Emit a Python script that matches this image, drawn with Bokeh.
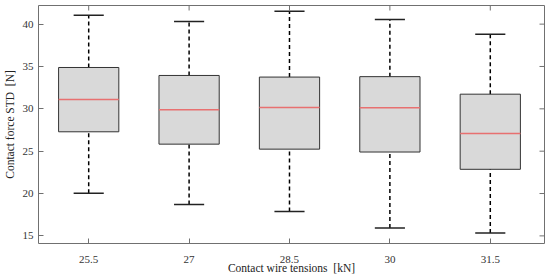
from bokeh.plotting import figure
from bokeh.models import Range1d, FixedTicker
from bokeh.embed import file_html
from bokeh.resources import INLINE

tensions = ["25.5", "27", "28.5", "30", "31.5"]
upper = [41.06, 40.3, 41.53, 40.54, 38.82]
q3 = [34.88, 33.94, 33.75, 33.8, 31.73]
median = [31.1, 29.88, 30.15, 30.12, 27.09]
q1 = [27.29, 25.83, 25.24, 24.9, 22.86]
lower = [20.04, 18.7, 17.89, 15.94, 15.35]
y_ticks = [15, 20, 25, 30, 35, 40]

pos = list(range(1, len(tensions) + 1))
box_w = 0.6
cap_w = 0.3
x_lo, x_hi = 0.5, 5.54
y_lo, y_hi = 14.1, 42.2

FONT = "Liberation Serif"
p = figure(width=550, height=278, output_backend="svg", toolbar_location=None,
           x_range=Range1d(x_lo, x_hi), y_range=Range1d(y_lo, y_hi),
           min_border_left=38, min_border_right=6, min_border_top=5, min_border_bottom=35)
p.xgrid.visible = False
p.ygrid.visible = False
p.outline_line_color = "#707070"
p.outline_line_width = 1

# whiskers
p.segment(x0=pos, x1=pos, y0=q3, y1=upper, line_color="black", line_width=1.5, line_dash="4 3")
p.segment(x0=pos, x1=pos, y0=lower, y1=q1, line_color="black", line_width=1.5, line_dash="4 3")
# caps
p.segment(x0=[x - cap_w / 2 for x in pos], x1=[x + cap_w / 2 for x in pos], y0=upper, y1=upper,
          line_color="#222222", line_width=1.5)
p.segment(x0=[x - cap_w / 2 for x in pos], x1=[x + cap_w / 2 for x in pos], y0=lower, y1=lower,
          line_color="#222222", line_width=1.5)
# boxes
p.vbar(x=pos, width=box_w, top=q3, bottom=q1, fill_color="#d9d9d9", line_color="#333333", line_width=1)
# medians
p.segment(x0=[x - box_w / 2 for x in pos], x1=[x + box_w / 2 for x in pos], y0=median, y1=median,
          line_color="#e87070", line_width=1.5)

# mirrored inward ticks on the top and right edges (MATLAB "box on")
tick_len_y = 5 * (y_hi - y_lo) / 238.0
tick_len_x = 5 * (x_hi - x_lo) / 506.0
p.segment(x0=pos, x1=pos, y0=[y_hi] * len(pos), y1=[y_hi - tick_len_y] * len(pos),
          line_color="#707070", line_width=1)
p.segment(x0=[x_hi] * len(y_ticks), x1=[x_hi - tick_len_x] * len(y_ticks), y0=y_ticks, y1=y_ticks,
          line_color="#707070", line_width=1)

def style(ax):
    ax.axis_line_color = None
    ax.major_tick_in = 5
    ax.major_tick_out = 0
    ax.minor_tick_line_color = None
    ax.major_tick_line_color = "#707070"
    ax.major_label_text_font = FONT
    ax.major_label_text_font_size = "11px"
    ax.major_label_text_color = "#333333"
    ax.axis_label_text_font = FONT
    ax.axis_label_text_font_size = "11.5px"
    ax.axis_label_text_font_style = "normal"
    ax.axis_label_text_color = "#222222"

xa = p.xaxis[0]
xa.ticker = FixedTicker(ticks=pos)
xa.major_label_overrides = {x: t for x, t in zip(pos, tensions)}
xa.axis_label = "Contact wire tensions \u00a0[kN]"
xa.axis_label_standoff = -4
xa.major_label_standoff = 12
style(xa)

ya = p.yaxis[0]
ya.ticker = FixedTicker(ticks=y_ticks)
ya.axis_label = "Contact force STD \u00a0[N]"
ya.axis_label_standoff = 4
ya.major_label_standoff = 5
style(ya)

open("out.html", "w").write(file_html(p, INLINE))
